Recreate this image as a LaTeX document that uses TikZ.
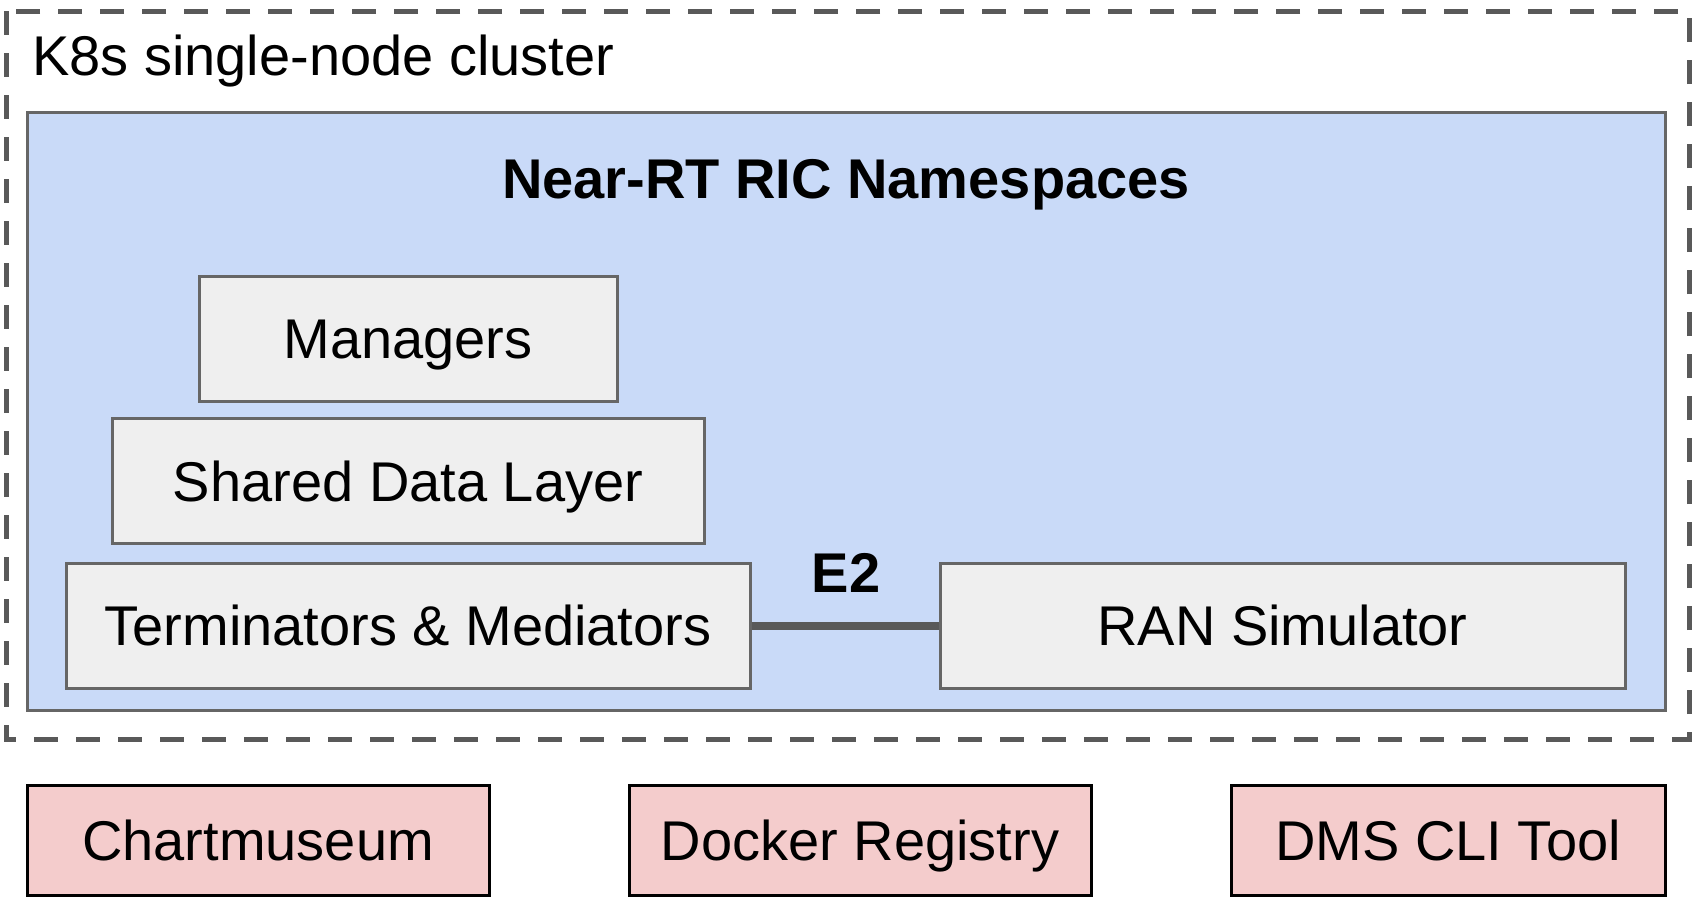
\documentclass[tikz,border=0pt]{standalone}
\usepackage{fontspec}
\setmainfont{Liberation Sans}
\begin{document}
\begin{tikzpicture}[x=1pt,y=-1pt,
  every node/.style={font=\fontsize{56}{62}\selectfont},
  graybox/.style={draw=boxline, fill=boxfill, line width=3pt, inner sep=0pt, minimum height=125pt, text height=40pt, text depth=0pt},
  pinkbox/.style={draw=black, fill=pinkfill, line width=3pt, inner sep=0pt, minimum height=110pt, minimum width=462pt, text height=40pt, text depth=0pt},
  e2line/.style={draw=linegray, line width=8pt}
]
\definecolor{boxline}{HTML}{666666}
\definecolor{boxfill}{HTML}{EFEFEF}
\definecolor{bluefill}{HTML}{C9DAF8}
\definecolor{pinkfill}{HTML}{F4CCCC}
\definecolor{linegray}{HTML}{595959}
\useasboundingbox (0,0) rectangle (1698,908);
\fill[white] (0,0) rectangle (1698,908);
% outer cluster
\draw[draw=linegray, line width=5pt, dash pattern=on 24pt off 18pt] (6,11) rectangle (1689,739);
\node[anchor=base west, inner sep=0pt] (k8s) at (32,75) {K8s single-node cluster};
% namespace box
\draw[draw=boxline, fill=bluefill, line width=3pt] (27,112) rectangle (1665,710);
\node[anchor=base, inner sep=0pt, font=\fontsize{56}{62}\selectfont\bfseries] (ns) at (846,198) {Near-RT RIC Namespaces};
% gray boxes
\node[graybox, minimum width=418pt] (mgr) at (408,338.5) {Managers};
\node[graybox, minimum width=592pt] (sdl) at (408,481) {Shared Data Layer};
\node[graybox, minimum width=684pt] (term) at (408,625.5) {Terminators \& Mediators};
\node[graybox, minimum width=685pt] (ran) at (1282.5,625.5) {RAN Simulator};
\draw[e2line] (term.east) -- (ran.west);
\node[anchor=base, inner sep=0pt, font=\fontsize{56}{62}\selectfont\bfseries] (e2) at (846,592) {E2};
% pink boxes
\node[pinkbox] (chart) at (258,840) {Chartmuseum};
\node[pinkbox] (docker) at (860,840) {Docker Registry};
\node[pinkbox, minimum width=434pt] (dms) at (1448,840) {DMS CLI Tool};
\end{tikzpicture}
\end{document}
